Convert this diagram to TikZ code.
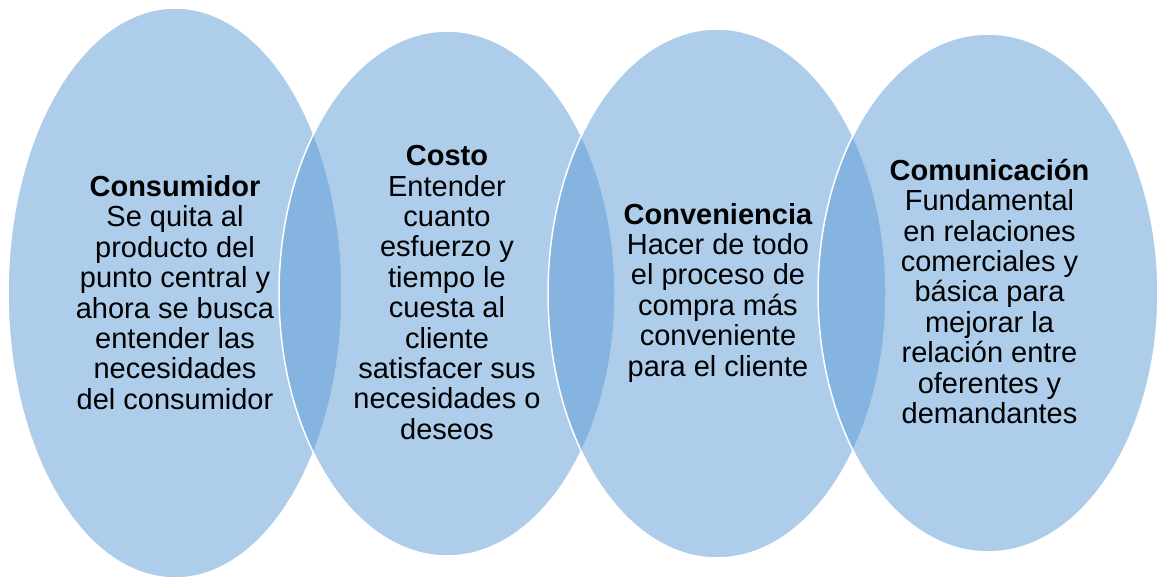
\documentclass[tikz,border=0pt]{standalone}
\usepackage{fontspec}
\setmainfont{Liberation Sans}
\definecolor{vennblue}{RGB}{91,155,213}
\tikzset{
  venn/.style={fill=vennblue,fill opacity=0.5,draw=white,line width=1.5pt},
  venntext/.style={align=center,text=black,font=\fontsize{29}{30.4}\selectfont}
}
\begin{document}
\begin{tikzpicture}[x=1pt,y=-1pt]
  \useasboundingbox (0,0) rectangle (1157,576);
  \foreach \cx/\cy/\rx/\ry in {175/293/167/285,447/293.5/168/262.5,717/293.5/169/264.5,988/293/170/259}{
    \draw [venn] (\cx,\cy) ellipse [x radius=\rx pt,y radius=\ry pt];
  }
  \node [venntext] (consumidor) at (175,292.5)
    {\textbf{Consumidor}\\Se quita al\\producto del\\punto central y\\ahora se busca\\entender las\\necesidades\\del consumidor};
  \node [venntext] (costo) at (447,292.5)
    {\textbf{Costo}\\Entender\\cuanto\\esfuerzo y\\tiempo le\\cuesta al\\cliente\\satisfacer sus\\necesidades o\\deseos};
  \node [venntext] (conveniencia) at (718,292.5)
    {\textbf{Conveniencia}\\Hacer de todo\\el proceso de\\compra más\\conveniente\\para el cliente};
  \node [venntext] (comunicacion) at (989.5,291.5)
    {\textbf{Comunicación}\\Fundamental\\en relaciones\\comerciales y\\básica para\\mejorar la\\relación entre\\oferentes y\\demandantes};
\end{tikzpicture}
\end{document}
